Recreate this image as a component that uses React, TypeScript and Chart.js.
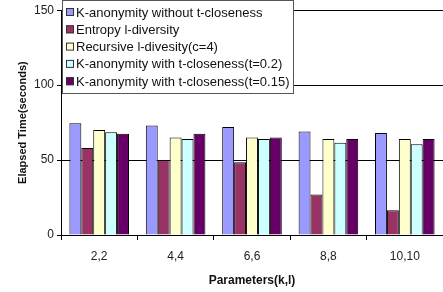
import React, { useEffect, useRef } from "react";
import { Chart, registerables } from "chart.js";

Chart.register(...registerables);

const categories = ["2,2", "4,4", "6,6", "8,8", "10,10"];
const seriesNames = [
  "K-anonymity without t-closeness",
  "Entropy l-diversity",
  "Recursive l-divesity(c=4)",
  "K-anonymity with t-closeness(t=0.2)",
  "K-anonymity with t-closeness(t=0.15)",
];
const kAnonNoT = [74.5, 73, 72, 69, 68];
const entropyL = [58, 50, 48.5, 27, 16.5];
const recursiveL = [70, 65, 65, 64, 64];
const kAnonT02 = [68.5, 64, 64, 61.5, 60.5];
const kAnonT015 = [67.5, 67.5, 65, 64, 64];
const seriesColors = ["#9999FF", "#993366", "#FFFFCC", "#CCFFFF", "#660066"];
const yTicks = [0, 50, 100, 150];

const legendPlugin = {
  id: "boxLegend",
  afterDraw(chart: any) {
    const ctx = chart.ctx;
    const x = 62, y = 0, w = 231, h = 93;
    ctx.save();
    ctx.fillStyle = "#ffffff";
    ctx.fillRect(x, y, w, h);
    ctx.strokeStyle = "#555555";
    ctx.lineWidth = 1;
    ctx.strokeRect(x + 0.5, y + 0.5, w, h);
    ctx.font = "13px 'Liberation Sans', Arial, sans-serif";
    ctx.textBaseline = "middle";
    seriesNames.forEach((name, i) => {
      const cy = 12 + i * 17.3;
      ctx.fillStyle = seriesColors[i];
      ctx.fillRect(66, cy - 4, 8, 8);
      ctx.strokeStyle = "#333333";
      ctx.strokeRect(66.5, cy - 3.5, 7, 7);
      ctx.fillStyle = "#111111";
      ctx.fillText(name, 76, cy + 1);
    });
    ctx.restore();
  },
};

export default function App() {
  const ref = useRef<HTMLCanvasElement>(null);
  useEffect(() => {
    document.body.style.margin = "0";
    const data = [kAnonNoT, entropyL, recursiveL, kAnonT02, kAnonT015];
    const chart = new Chart(ref.current!, {
      type: "bar",
      data: {
        labels: categories,
        datasets: data.map((d, i) => ({
          label: seriesNames[i],
          data: d,
          backgroundColor: seriesColors[i],
          borderColor: "#000000",
          borderWidth: 1,
          barPercentage: 1,
          categoryPercentage: 0.78,
        })),
      },
      options: {
        animation: false,
        responsive: false,
        maintainAspectRatio: false,
        layout: { padding: { top: 10, right: 0, left: 0, bottom: 0 } },
        plugins: { legend: { display: false }, tooltip: { enabled: false } },
        scales: {
          x: {
            grid: {
              offset: true,
              drawOnChartArea: false,
              color: "#000",
              tickLength: 5,
            },
            border: { color: "#000" },
            ticks: {
              color: "#222",
              font: { family: "'Liberation Sans', Arial", size: 12 },
              padding: 9,
            },
            title: {
              display: true,
              text: "Parameters(k,l)",
              color: "#111",
              font: { family: "'Liberation Sans', Arial", size: 12, weight: "bold" },
              padding: { top: 3 },
            },
            afterFit(scale: any) {
              scale.height = 57;
            },
          },
          y: {
            min: 0,
            max: 150,
            afterBuildTicks(scale: any) {
              scale.ticks = yTicks.map((v) => ({ value: v }));
            },
            grid: { color: "#000", tickLength: 4 },
            border: { color: "#000" },
            ticks: {
              color: "#222",
              font: { family: "'Liberation Sans', Arial", size: 12 },
              padding: 3,
            },
            title: {
              display: true,
              text: "Elapsed Time(seconds)",
              color: "#111",
              font: { family: "'Liberation Sans', Arial", size: 11, weight: "bold" },
              padding: { top: 16, bottom: 0 },
            },
            afterFit(scale: any) {
              scale.width = 61;
            },
          },
        },
      },
      plugins: [legendPlugin],
    });
    return () => chart.destroy();
  }, []);
  return <canvas ref={ref} width={443} height={292} style={{ display: "block" }} />;
}
